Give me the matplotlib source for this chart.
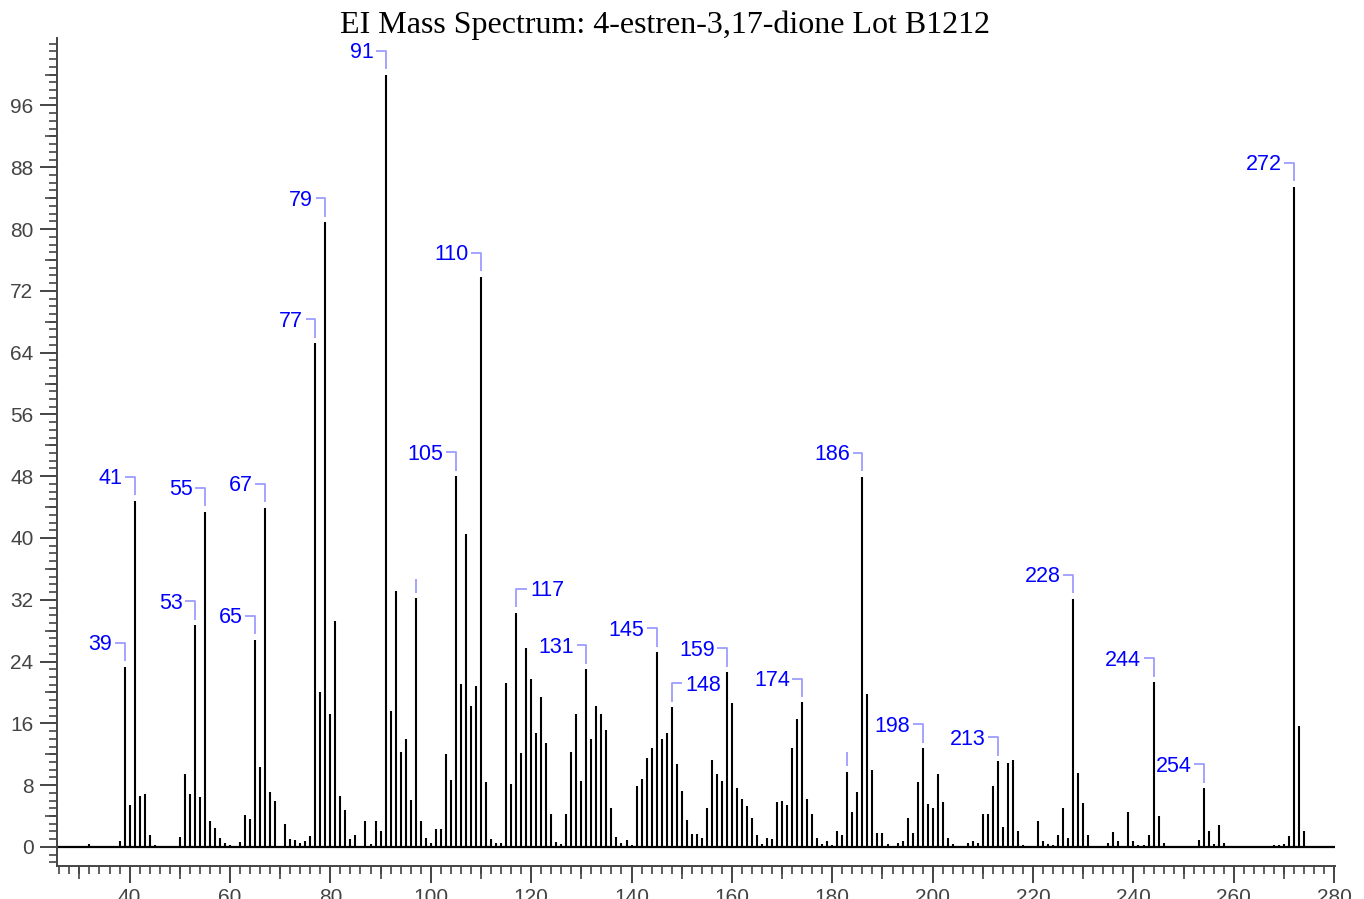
import matplotlib
matplotlib.use("Agg")
import matplotlib.pyplot as plt
from matplotlib.ticker import MultipleLocator, FixedLocator

mz = [32, 38, 39, 40, 41, 42, 43, 44, 45, 50, 51, 52, 53, 54, 55, 56, 57, 58, 59, 60,
      62, 63, 64, 65, 66, 67, 68, 69, 71, 72, 73, 74, 75, 76, 77, 78, 79, 80, 81, 82,
      83, 84, 85, 87, 88, 89, 90, 91, 92, 93, 94, 95, 96, 97, 98, 99, 100, 101, 102, 103,
      104, 105, 106, 107, 108, 109, 110, 111, 112, 113, 114, 115, 116, 117, 118, 119, 120, 121, 122, 123,
      124, 125, 126, 127, 128, 129, 130, 131, 132, 133, 134, 135, 136, 137, 138, 139, 140, 141, 142, 143,
      144, 145, 146, 147, 148, 149, 150, 151, 152, 153, 154, 155, 156, 157, 158, 159, 160, 161, 162, 163,
      164, 165, 166, 167, 168, 169, 170, 171, 172, 173, 174, 175, 176, 177, 178, 179, 180, 181, 182, 183,
      184, 185, 186, 187, 188, 189, 190, 191, 193, 194, 195, 196, 197, 198, 199, 200, 201, 202, 203, 204,
      207, 208, 209, 210, 211, 212, 213, 214, 215, 216, 217, 218, 221, 222, 223, 224, 225, 226, 227, 228,
      229, 230, 231, 235, 236, 237, 239, 240, 241, 242, 243, 244, 245, 246, 253, 254, 255, 256, 257, 258,
      268, 269, 270, 271, 272, 273, 274]

intensity = [0.4, 0.8, 23.3, 5.4, 44.8, 6.6, 6.8, 1.6, 0.3, 1.3, 9.5, 6.85, 28.7, 6.4, 43.4, 3.3, 2.4, 1.15, 0.55, 0.2,
             0.6, 4.1, 3.6, 26.8, 10.3, 43.9, 7.1, 6.0, 3.0, 1.0, 0.9, 0.55, 0.8, 1.4, 65.2, 20.0, 80.9, 17.2, 29.2, 6.6,
             4.8, 1.0, 1.6, 3.3, 0.4, 3.4, 2.0, 100.0, 17.6, 33.2, 12.3, 14.0, 6.1, 32.2, 3.3, 1.15, 0.55, 2.3, 2.3, 12.0,
             8.7, 48.0, 21.1, 40.5, 18.3, 20.8, 73.8, 8.45, 1.0, 0.55, 0.45, 21.2, 8.2, 30.3, 12.1, 25.7, 21.7, 14.7, 19.4, 13.5,
             4.3, 0.6, 0.4, 4.3, 12.3, 17.2, 8.5, 23.0, 14.0, 18.3, 17.2, 15.2, 5.1, 1.3, 0.5, 0.85, 0.3, 7.9, 8.75, 11.5,
             12.8, 25.2, 14.0, 14.7, 18.1, 10.8, 7.2, 3.5, 1.7, 1.7, 1.2, 5.0, 11.3, 9.5, 8.5, 22.6, 18.6, 7.6, 6.2, 5.3,
             3.8, 1.6, 0.4, 1.2, 1.0, 5.8, 5.95, 5.4, 12.85, 16.6, 18.7, 6.2, 4.3, 1.1, 0.4, 0.8, 0.3, 2.0, 1.5, 9.75,
             4.55, 7.1, 47.9, 19.85, 9.9, 1.75, 1.75, 0.4, 0.55, 0.75, 3.8, 1.75, 8.45, 12.8, 5.6, 5.1, 9.4, 5.8, 1.2, 0.4,
             0.55, 0.8, 0.55, 4.3, 4.3, 7.9, 11.1, 2.55, 10.9, 11.3, 2.05, 0.3, 3.3, 0.8, 0.4, 0.2, 1.5, 5.0, 1.1, 32.1,
             9.6, 5.65, 1.5, 0.5, 1.9, 0.75, 4.55, 0.75, 0.2, 0.3, 1.6, 21.3, 3.95, 0.55, 0.85, 7.6, 2.1, 0.4, 2.8, 0.55,
             0.2, 0.2, 0.4, 1.4, 85.5, 15.6, 2.0]

labels_left = [39, 41, 53, 55, 65, 67, 77, 79, 91, 105, 110, 131, 145, 159, 174,
               186, 198, 213, 228, 244, 254, 272]
labels_right = [117, 148]
marks_only = [97, 183]

title = "EI Mass Spectrum: 4-estren-3,17-dione Lot B1212"

W, H = 1364, 899
fig = plt.figure(figsize=(W / 100, H / 100), dpi=100)
ax = fig.add_axes([57 / W, (H - 866) / H, (1335.5 - 57) / W, (866 - 38.3) / H])

ax.set_xlim(25.54, 280.25)
ax.set_ylim(-2.47, 104.7)

ax.vlines(mz, 0, intensity, color="black", linewidth=1.5)
ax.axhline(0, color="black", linewidth=1.6)

lookup = dict(zip(mz, intensity))
bcol = "#9d9dff"
tcol = "#0000ff"
gap, top, hl = 0.72, 3.1, 1.95
for m in labels_left:
    y = lookup[m]
    ax.plot([m - hl, m, m], [y + top, y + top, y + gap], color=bcol, lw=1.3, solid_capstyle="butt")
    ax.text(m - hl - 0.5, y + top - 0.25, str(m), color=tcol, fontsize=15.5,
            family="Liberation Sans", ha="right", va="center")
for m in labels_right:
    y = lookup[m]
    ax.plot([m, m, m + hl + 0.2], [y + gap, y + top, y + top], color=bcol, lw=1.3, solid_capstyle="butt")
    ax.text(m + hl + 0.8, y + top - 0.25, str(m), color=tcol, fontsize=15.5,
            family="Liberation Sans", ha="left", va="center")
for m in marks_only:
    y = lookup[m]
    ax.plot([m, m], [y + gap, y + top - 0.6], color=bcol, lw=1.3, solid_capstyle="butt")

for s in ["top", "right"]:
    ax.spines[s].set_visible(False)
for s in ["left", "bottom"]:
    ax.spines[s].set_color("#444444")
    ax.spines[s].set_linewidth(1.4)

ax.xaxis.set_major_locator(MultipleLocator(20))
ax.xaxis.set_minor_locator(MultipleLocator(2))
ax.yaxis.set_major_locator(FixedLocator(list(range(0, 97, 8))))
ax.yaxis.set_minor_locator(FixedLocator(list(range(-2, 105, 1))))
ax.tick_params(axis="both", which="major", length=12, width=1.4, color="#444444",
               labelcolor="#444444", labelsize=15)
ax.tick_params(axis="both", which="minor", length=6, width=1.2, color="#444444")
ax.tick_params(axis="x", which="major", pad=4)
ax.tick_params(axis="y", which="major", pad=5)
for lab in ax.get_xticklabels() + ax.get_yticklabels():
    lab.set_family("Liberation Sans")

# medium ticks
sec_x = ax.secondary_xaxis("bottom")
sec_x.set_xticks(list(range(30, 281, 20)))
sec_x.set_xticklabels([])
sec_x.tick_params(length=9, width=1.2, color="#444444")
sec_x.spines["bottom"].set_visible(False)
sec_y = ax.secondary_yaxis("left")
sec_y.set_yticks(list(range(4, 105, 8)))
sec_y.set_yticklabels([])
sec_y.tick_params(length=9, width=1.2, color="#444444")
sec_y.spines["left"].set_visible(False)

fig.text(664.5 / W, 1 - 25 / H, title, family="Liberation Serif", fontsize=23,
         ha="center", va="center", color="black")

fig.savefig("out.png", dpi=100)
